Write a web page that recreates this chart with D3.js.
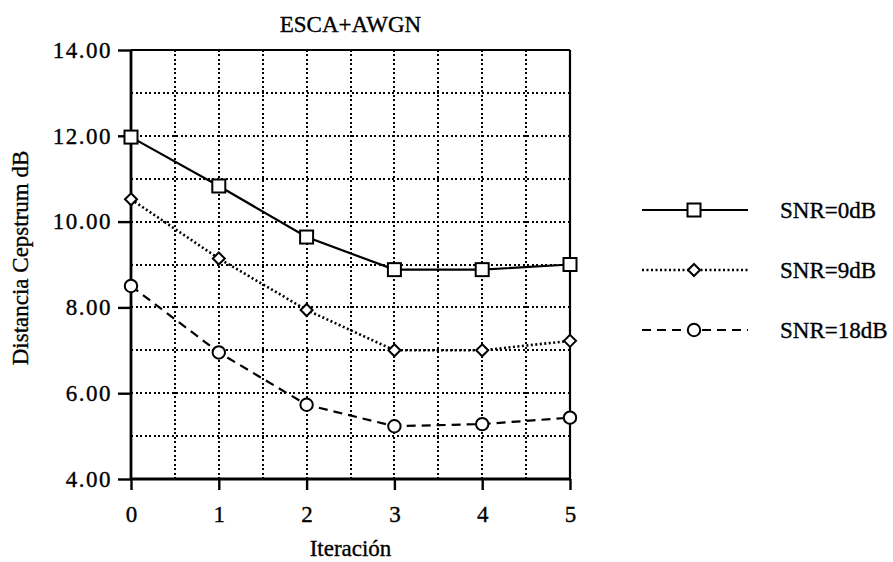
<!DOCTYPE html>
<html>
<head>
<meta charset="utf-8">
<script src="https://cdn.jsdelivr.net/npm/d3@7"></script>
<style>
  body { margin: 0; background: #fff; }
  svg text { font-family: "Liberation Serif", "DejaVu Serif", serif; fill: #000; stroke: #000; stroke-width: 0.35px; }
</style>
</head>
<body>
<div id="chart"></div>
<script>
const iterations = [0, 1, 2, 3, 4, 5]
const snr0 = [11.97, 10.83, 9.64, 8.88, 8.88, 9.0]
const snr9 = [10.52, 9.14, 7.94, 7.0, 7.0, 7.22]
const snr18 = [8.5, 6.95, 5.73, 5.23, 5.28, 5.43]
const seriesNames = ['SNR=0dB', 'SNR=9dB', 'SNR=18dB']
const yTicks = [4, 6, 8, 10, 12, 14]

const width = 893, height = 562
const margin = { left: 131, right: 893 - 570, top: 50, bottom: 562 - 479 }

const svg = d3.select('#chart').append('svg').attr('width', width).attr('height', height)

const x = d3.scaleLinear().domain([0, 5]).range([margin.left, width - margin.right])
const y = d3.scaleLinear().domain([4, 14]).range([height - margin.bottom, margin.top])

// dotted grid
const grid = svg.append('g').attr('shape-rendering', 'crispEdges')
grid.selectAll('.hgrid').data(d3.range(5, 14)).enter().append('line')
    .attr('x1', x(0)).attr('x2', x(5))
    .attr('y1', d => y(d)).attr('y2', d => y(d))
    .attr('stroke', '#000').attr('stroke-width', 2).attr('stroke-dasharray', '2,2.5')
grid.selectAll('.vgrid').data(d3.range(0.5, 5, 0.5)).enter().append('line')
    .attr('y1', y(4)).attr('y2', y(14))
    .attr('x1', d => x(d)).attr('x2', d => x(d))
    .attr('stroke', '#000').attr('stroke-width', 2).attr('stroke-dasharray', '2,2.5')

// frame
svg.append('line').attr('x1', x(0)).attr('x2', x(5)).attr('y1', y(14)).attr('y2', y(14))
    .attr('stroke', '#000').attr('stroke-width', 2.2)
svg.append('line').attr('x1', x(5)).attr('x2', x(5)).attr('y1', y(14)).attr('y2', y(4))
    .attr('stroke', '#000').attr('stroke-width', 2.2)

const xAxis = svg.append('g').attr('transform', `translate(0,${y(4)})`)
    .call(d3.axisBottom(x).tickValues(iterations).tickFormat(d3.format('d')).tickSize(11).tickPadding(16))
const yAxis = svg.append('g').attr('transform', `translate(${x(0)},0)`)
    .call(d3.axisLeft(y).tickValues(yTicks).tickFormat(d3.format('.2f')).tickSize(13).tickPadding(6))
;[xAxis, yAxis].forEach(a => {
    a.select('.domain').attr('stroke-width', 2.8)
    a.selectAll('.tick line').attr('stroke-width', 2.4)
    a.selectAll('text').style('font-size', '23px').attr('font-family', null)
})
yAxis.selectAll('text').style('letter-spacing', '1.5px')
// keep the axis line without outer ticks
xAxis.select('.domain').attr('d', `M${x(0)},0H${x(5)}`)
yAxis.select('.domain').attr('d', `M0,${y(4)}V${y(14)}`)

// series
const series = [
    { name: seriesNames[0], values: snr0, dash: null, width: 2.2, marker: 'square' },
    { name: seriesNames[1], values: snr9, dash: '2,2.5', width: 2.6, marker: 'diamond' },
    { name: seriesNames[2], values: snr18, dash: '9,6', width: 2.2, marker: 'circle' }
]
const line = d3.line().x((d, i) => x(iterations[i])).y(d => y(d))

function drawMarker (g, type, cx, cy) {
    if (type === 'square') {
        g.append('rect').attr('x', cx - 6.5).attr('y', cy - 6.5).attr('width', 13).attr('height', 13)
            .attr('fill', '#fff').attr('stroke', '#000').attr('stroke-width', 2)
    } else if (type === 'diamond') {
        g.append('path').attr('d', `M${cx},${cy - 6}L${cx + 6},${cy}L${cx},${cy + 6}L${cx - 6},${cy}Z`)
            .attr('fill', '#fff').attr('stroke', '#000').attr('stroke-width', 2)
    } else {
        g.append('circle').attr('cx', cx).attr('cy', cy).attr('r', 6.2)
            .attr('fill', '#fff').attr('stroke', '#000').attr('stroke-width', 2)
    }
}

series.forEach(s => {
    svg.append('path').datum(s.values).attr('d', line)
        .attr('fill', 'none').attr('stroke', '#000').attr('stroke-width', s.width)
        .attr('stroke-dasharray', s.dash)
    const g = svg.append('g')
    s.values.forEach((v, i) => drawMarker(g, s.marker, x(iterations[i]), y(v)))
})

// legend
const legend = svg.append('g')
series.forEach((s, i) => {
    const ly = 210 + i * 60
    legend.append('line').attr('x1', 642).attr('x2', 748).attr('y1', ly).attr('y2', ly)
        .attr('stroke', '#000').attr('stroke-width', s.width).attr('stroke-dasharray', s.dash)
    drawMarker(legend, s.marker, 694, ly)
    legend.append('text').attr('x', 780).attr('y', ly + 8).style('font-size', '23px').text(s.name)
})

// titles
svg.append('text').attr('x', (x(0) + x(5)) / 2).attr('y', 32).attr('text-anchor', 'middle')
    .style('font-size', '23px').text('ESCA+AWGN')
svg.append('text').attr('x', (x(0) + x(5)) / 2).attr('y', 556).attr('text-anchor', 'middle')
    .style('font-size', '23px').text('Iteración')
svg.append('text').attr('transform', `translate(28,258) rotate(-90)`).attr('text-anchor', 'middle')
    .style('font-size', '23px').text('Distancia Cepstrum dB')
</script>
</body>
</html>
